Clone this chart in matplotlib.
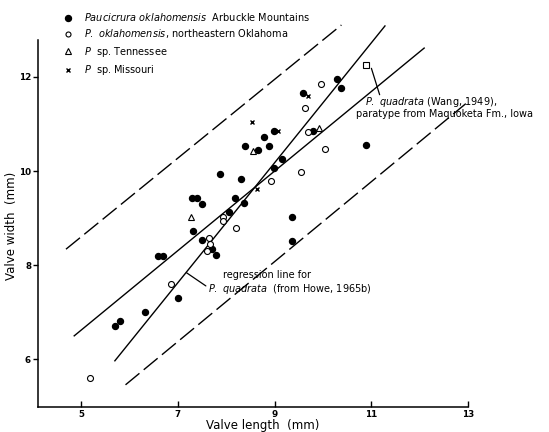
import matplotlib
matplotlib.use("Agg")
import matplotlib.pyplot as plt
from matplotlib.lines import Line2D

plt.rcParams['font.family'] = ['DejaVu Sans']
plt.rcParams['mathtext.fontset'] = 'dejavusans'

# --- data ---
arbuckle_x = [5.71, 5.80, 6.32, 7.01, 6.59, 6.70, 7.70, 7.79, 7.50, 7.31, 8.06, 8.37,
              7.51, 7.29, 7.40, 8.19, 7.87, 8.31, 8.39, 8.78, 8.89, 8.66, 8.98, 8.98,
              9.15, 9.59, 10.29, 10.38, 9.80, 10.88, 9.36, 9.36]
arbuckle_y = [6.71, 6.82, 7.01, 7.31, 8.20, 8.20, 8.34, 8.21, 8.53, 8.73, 9.13, 9.33,
              9.31, 9.43, 9.43, 9.43, 9.93, 9.83, 10.53, 10.73, 10.54, 10.44, 10.84, 10.06,
              10.25, 11.66, 11.96, 11.77, 10.84, 10.55, 9.02, 8.51]

ne_okla_x = [5.19, 6.85, 7.60, 7.67, 7.64, 7.93, 7.94, 8.20, 8.93, 9.55, 10.05, 9.63, 9.96, 9.70]
ne_okla_y = [5.61, 7.60, 8.30, 8.44, 8.57, 9.03, 8.93, 8.80, 9.79, 9.97, 10.47, 11.33, 11.85, 10.83]

tenn_x = [7.28, 8.56, 9.92]
tenn_y = [9.02, 10.42, 10.92]

missouri_x = [8.54, 9.08, 8.64, 9.69]
missouri_y = [11.05, 10.86, 9.61, 11.60]

wang_x = [10.89]
wang_y = [12.26]

howe_line_x = [5.70, 11.28]
howe_line_y = [5.97, 13.08]
okla_line_x = [4.86, 12.09]
okla_line_y = [6.50, 12.61]
upper_band_x = [4.69, 10.38]
upper_band_y = [8.34, 13.10]
lower_band_x = [5.92, 12.95]
lower_band_y = [5.46, 11.43]

x_ticks = [5, 7, 9, 11, 13]
y_ticks = [6, 8, 10, 12]

# --- figure ---
W, H = 549, 432
fig = plt.figure(figsize=(W / 100, H / 100), dpi=100)
ax = fig.add_axes([38 / W, 1 - 407 / H, 1 - 38 / W, 407 / H])
ax.set_xlim(4.112, 14.669)
ax.set_ylim(4.989, 13.631)
ax.patch.set_alpha(0)

for s in ['top', 'right']:
    ax.spines[s].set_visible(False)
ax.spines['bottom'].set_bounds(4.112, 13.0)
ax.spines['left'].set_bounds(4.989, 12.78)
for s in ['bottom', 'left']:
    ax.spines[s].set_linewidth(1.1)

ax.set_xticks(x_ticks)
ax.set_yticks(y_ticks)
ax.tick_params(axis='x', direction='in', length=4, width=1, labelsize=6.3, pad=2)
ax.tick_params(axis='y', direction='out', length=3.5, width=1, labelsize=6.3, pad=1.5)
for lab in ax.get_xticklabels() + ax.get_yticklabels():
    lab.set_fontweight('bold')

lc = 'black'
ax.plot(howe_line_x, howe_line_y, color=lc, lw=1.0, clip_on=False)
ax.plot(okla_line_x, okla_line_y, color=lc, lw=1.0, clip_on=False)
ax.plot(upper_band_x, upper_band_y, color=lc, lw=1.0, dashes=(13, 4), clip_on=False)
ax.plot(lower_band_x, lower_band_y, color=lc, lw=1.0, dashes=(13, 4), clip_on=False)

ax.plot(arbuckle_x, arbuckle_y, 'o', ms=4.3, mfc='black', mec='black', ls='none', zorder=3)
ax.plot(ne_okla_x, ne_okla_y, 'o', ms=4.3, mfc='white', mec='black', mew=0.8, ls='none', zorder=3)
ax.plot(tenn_x, tenn_y, '^', ms=4.8, mfc='white', mec='black', mew=0.8, ls='none', zorder=3)
ax.plot(missouri_x, missouri_y, 'x', ms=3.2, mec='black', mew=1.0, ls='none', zorder=3)
ax.plot(wang_x, wang_y, 's', ms=4.8, mfc='white', mec='black', mew=0.8, ls='none', zorder=3)

# annotations
ax.annotate('', xy=(7.18, 7.84), xytext=(7.58, 7.56),
            arrowprops=dict(arrowstyle='-', color='black', lw=0.9, shrinkA=0, shrinkB=0))
ax.text(7.93, 7.79, 'regression line for', fontsize=7, va='center', ha='left')
ax.text(7.62, 7.49, r'$\mathit{P.\ quadrata}$  (from Howe, 1965b)', fontsize=7, va='center', ha='left')

ax.annotate('', xy=(11.0, 12.18), xytext=(11.17, 11.62),
            arrowprops=dict(arrowstyle='-', color='black', lw=0.9, shrinkA=0, shrinkB=0))
ax.text(10.87, 11.47, r'$\mathit{P.\ quadrata}$ (Wang, 1949),', fontsize=7, va='center', ha='left')
ax.text(10.68, 11.20, 'paratype from Maquoketa Fm., Iowa', fontsize=7, va='center', ha='left')

# axis labels
fig.text(263 / W, 1 - 426 / H, 'Valve length  (mm)', fontsize=8.5, ha='center', va='center')
fig.text(12 / W, 1 - 226 / H, 'Valve width  (mm)', fontsize=8.5, ha='center', va='center', rotation=90)

# legend
handles = [
    Line2D([], [], marker='o', ls='none', ms=4.3, mfc='black', mec='black'),
    Line2D([], [], marker='o', ls='none', ms=3.6, mfc='white', mec='black', mew=0.8),
    Line2D([], [], marker='^', ls='none', ms=4.0, mfc='white', mec='black', mew=0.8),
    Line2D([], [], marker='x', ls='none', ms=3.2, mec='black', mew=1.0),
]
labels = [
    r'$\mathit{Paucicrura\ oklahomensis}$  Arbuckle Mountains',
    r'$\mathit{P.\ oklahomensis}$, northeastern Oklahoma',
    r'$\mathit{P}$  sp. Tennessee',
    r'$\mathit{P}$  sp. Missouri',
]
fig.legend(handles, labels, loc='upper left', bbox_to_anchor=(63 / W, 1 - 11 / H),
           frameon=False, fontsize=7, handlelength=1.0, handletextpad=1.2,
           labelspacing=0.45, borderpad=0, borderaxespad=0)

fig.savefig('out.png', dpi=100)
